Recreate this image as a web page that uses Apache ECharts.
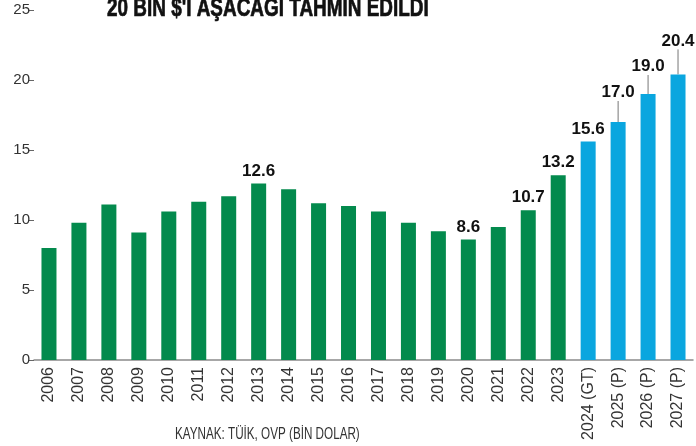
<!DOCTYPE html>
<html>
<head>
<meta charset="utf-8">
<script src="https://cdn.jsdelivr.net/npm/echarts@6/dist/echarts.min.js"></script>
<style>
  html, body { margin: 0; padding: 0; background: #fff; }
  #chart { width: 696px; height: 446px; }
</style>
</head>
<body>
<div id="chart"></div>
<script>
  // yillar ve degerler (bin dolar)
  const years = ['2006', '2007', '2008', '2009', '2010', '2011', '2012', '2013', '2014', '2015', '2016',
    '2017', '2018', '2019', '2020', '2021', '2022', '2023', '2024 (GT)', '2025 (P)', '2026 (P)', '2027 (P)'];
  const values = [8.0, 9.8, 11.1, 9.1, 10.6, 11.3, 11.7, 12.6, 12.2, 11.2, 11.0,
    10.6, 9.8, 9.2, 8.6, 9.5, 10.7, 13.2, 15.6, 17.0, 19.0, 20.4];
  // sadece bazi cubuklarda etiket var
  const labelledYears = ['2013', '2020', '2022', '2023', '2024 (GT)', '2025 (P)', '2026 (P)', '2027 (P)'];
  const forecastYears = ['2024 (GT)', '2025 (P)', '2026 (P)', '2027 (P)'];
  const raisedLabels = { '2025 (P)': -17, '2026 (P)': -15, '2027 (P)': -21 };
  const yTicks = [0, 5, 10, 15, 20, 25];

  const GREEN = '#038a4d';
  const BLUE = '#0aa6df';

  const chart = echarts.init(document.getElementById('chart'));
  chart.setOption({
    animation: false,
    graphic: [{
      // baslik: dar (condensed) yazi yok, o yuzden yatayda sikistiriyoruz
      type: 'text',
      x: 107,
      y: 9,
      scaleX: 0.757,
      style: {
        text: "20 BIN $'I AŞACAGI TAHMIN EDILDI",
        x: 0,
        y: 0,
        textVerticalAlign: 'middle',
        font: 'bold 25px "Liberation Sans", sans-serif',
        fill: '#111',
        stroke: '#111',
        lineWidth: 0.7,
      },
    }, {
      type: 'text',
      x: 175,
      y: 435,
      scaleX: 0.73,
      style: {
        text: 'KAYNAK: TÜİK, OVP (BİN DOLAR)',
        x: 0,
        y: 0,
        textVerticalAlign: 'middle',
        font: '16px "Liberation Sans", sans-serif',
        fill: '#333',
      },
    }],
    grid: {
      left: 34,
      right: 3,
      top: 10,
      bottom: 86,
    },
    xAxis: {
      type: 'category',
      data: years,
      axisLine: { lineStyle: { color: '#8a8a8a', width: 1.5 } },
      axisTick: { show: false },
      axisLabel: {
        rotate: 90,
        margin: 7,
        fontFamily: 'Liberation Sans, sans-serif',
        fontSize: 16,
        color: '#333',
      },
    },
    yAxis: {
      type: 'value',
      min: yTicks[0],
      max: yTicks[yTicks.length - 1],
      interval: 5,
      splitLine: { show: false },
      axisLine: { show: false },
      axisTick: { show: true, length: 6, lineStyle: { color: '#666' } },
      axisLabel: {
        margin: 4,
        fontFamily: 'Liberation Sans, sans-serif',
        fontSize: 15,
        color: '#333',
      },
    },
    series: [{
      type: 'bar',
      barWidth: 15,
      data: values.map((v, i) => ({
        value: v,
        itemStyle: { color: forecastYears.includes(years[i]) ? BLUE : GREEN },
        label: { show: labelledYears.includes(years[i]) },
        labelLine: { show: raisedLabels[years[i]] !== undefined },
      })),
      label: {
        position: 'top',
        distance: 4,
        formatter: p => p.value.toFixed(1),
        fontFamily: 'Liberation Sans, sans-serif',
        fontWeight: 'bold',
        fontSize: 17,
        color: '#111',
      },
      labelLine: {
        lineStyle: { color: '#777', width: 1 },
      },
      labelLayout: params => {
        const dy = raisedLabels[years[params.dataIndex]];
        return dy ? { dy: dy } : {};
      },
    }],
  });
</script>
</body>
</html>
